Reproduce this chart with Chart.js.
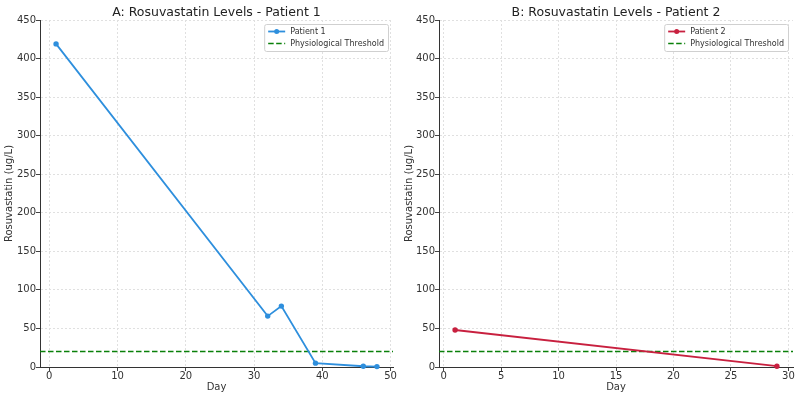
<!DOCTYPE html>
<html>
<head>
<meta charset="utf-8">
<script src="https://cdn.jsdelivr.net/npm/chart.js@4.4.0/dist/chart.umd.min.js"></script>
<style>
  body { margin: 0; background: #fff; }
  #wrap { position: relative; width: 800px; height: 397px; }
  canvas { position: absolute; top: 0; }
</style>
</head>
<body>
<div id="wrap">
  <canvas id="c1" width="400" height="397" style="left:0"></canvas>
  <canvas id="c2" width="400" height="397" style="left:400px"></canvas>
</div>
<script>
// patient 1
const days1 = [1, 32, 34, 39, 46, 48];
const levels1 = [419, 66, 79, 5, 1, 0.5];
// patient 2
const days2 = [1, 29];
const levels2 = [48, 1];

const threshold = 20;
const yTicks = [0, 50, 100, 150, 200, 250, 300, 350, 400, 450];
const xTicks1 = [0, 10, 20, 30, 40, 50];
const xTicks2 = [0, 5, 10, 15, 20, 25, 30];

const FONT = '"DejaVu Sans", sans-serif';

// title + in-plot legend, matplotlib style
const decor = {
    id: 'decor',
    afterDraw(chart, args, opts) {
        const {ctx, chartArea} = chart;
        ctx.save();
        ctx.fillStyle = '#222';
        ctx.font = '12.5px ' + FONT;
        ctx.textAlign = 'center';
        ctx.textBaseline = 'alphabetic';
        ctx.fillText(opts.title, (chartArea.left + chartArea.right) / 2, 15.5);

        const sets = chart.data.datasets;
        ctx.font = '8px ' + FONT;
        const w = Math.max(...sets.map(d => ctx.measureText(d.label).width)) + 30;
        const h = sets.length * 12 + 3;
        const x = chartArea.right - w - 5, y = chartArea.top + 4;
        ctx.fillStyle = 'rgba(255,255,255,0.85)';
        ctx.strokeStyle = '#d0d0d0';
        ctx.lineWidth = 1;
        ctx.beginPath();
        ctx.roundRect(x + 0.5, y + 0.5, w, h, 2);
        ctx.fill();
        ctx.stroke();
        sets.forEach((d, i) => {
            const cy = y + 7.5 + i * 12;
            ctx.strokeStyle = d.borderColor;
            ctx.lineWidth = d.borderWidth;
            ctx.setLineDash(d.borderDash || []);
            ctx.beginPath();
            ctx.moveTo(x + 4, cy);
            ctx.lineTo(x + 21, cy);
            ctx.stroke();
            ctx.setLineDash([]);
            if (d.pointRadius > 0) {
                ctx.fillStyle = d.borderColor;
                ctx.beginPath();
                ctx.arc(x + 12.5, cy, 2.5, 0, Math.PI * 2);
                ctx.fill();
            }
            ctx.fillStyle = '#333';
            ctx.textAlign = 'left';
            ctx.textBaseline = 'middle';
            ctx.fillText(d.label, x + 26, cy + 0.5);
        });
        ctx.restore();
    }
};

function makeChart(id, title, label, color, days, levels, xTicks, yWidth) {
    // matplotlib default 5% margins on x
    const span = days[days.length - 1] - days[0];
    const xMin = days[0] - span * 0.05;
    const xMax = days[days.length - 1] + span * 0.05;
    const grid = {
        color: '#e0e0e0',
        tickColor: '#444',
        tickBorderDash: [],
        tickLength: 4
    };
    const border = {color: '#333', width: 1, dash: [2, 2]};
    return new Chart(document.getElementById(id), {
        type: 'line',
        data: {
            datasets: [{
                label: label,
                data: days.map((d, i) => ({x: d, y: levels[i]})),
                borderColor: color,
                backgroundColor: color,
                borderWidth: 1.8,
                pointRadius: 2.7,
                pointBorderWidth: 0,
                pointHoverRadius: 2.7,
                clip: false
            }, {
                label: 'Physiological Threshold',
                data: [{x: xMin, y: threshold}, {x: xMax, y: threshold}],
                borderColor: '#0a800a',
                borderWidth: 1.5,
                borderDash: [5.5, 2.5],
                pointRadius: 0
            }]
        },
        options: {
            responsive: false,
            animation: false,
            layout: {padding: {top: 20, right: 7}},
            plugins: {
                legend: {display: false},
                tooltip: {enabled: false},
                decor: {title: title}
            },
            scales: {
                x: {
                    type: 'linear',
                    min: xMin,
                    max: xMax,
                    afterBuildTicks: s => { s.ticks = xTicks.map(v => ({value: v})); },
                    afterFit: s => { s.height = 30; },
                    grid: grid,
                    border: border,
                    ticks: {color: '#333', font: {family: FONT, size: 10}, padding: -1, maxRotation: 0},
                    title: {display: true, text: 'Day', color: '#333', font: {family: FONT, size: 10}, padding: 4}
                },
                y: {
                    min: 0,
                    max: 450,
                    afterBuildTicks: s => { s.ticks = yTicks.map(v => ({value: v})); },
                    afterFit: s => { s.width = yWidth; },
                    grid: grid,
                    border: border,
                    ticks: {color: '#333', font: {family: FONT, size: 10}, padding: 0},
                    title: {display: true, text: 'Rosuvastatin (ug/L)', color: '#333', font: {family: FONT, size: 10}, padding: 3}
                }
            }
        },
        plugins: [decor]
    });
}

makeChart('c1', 'A: Rosuvastatin Levels - Patient 1', 'Patient 1', '#2e8fdd', days1, levels1, xTicks1, 40);
makeChart('c2', 'B: Rosuvastatin Levels - Patient 2', 'Patient 2', '#c8203f', days2, levels2, xTicks2, 39);
</script>
</body>
</html>
